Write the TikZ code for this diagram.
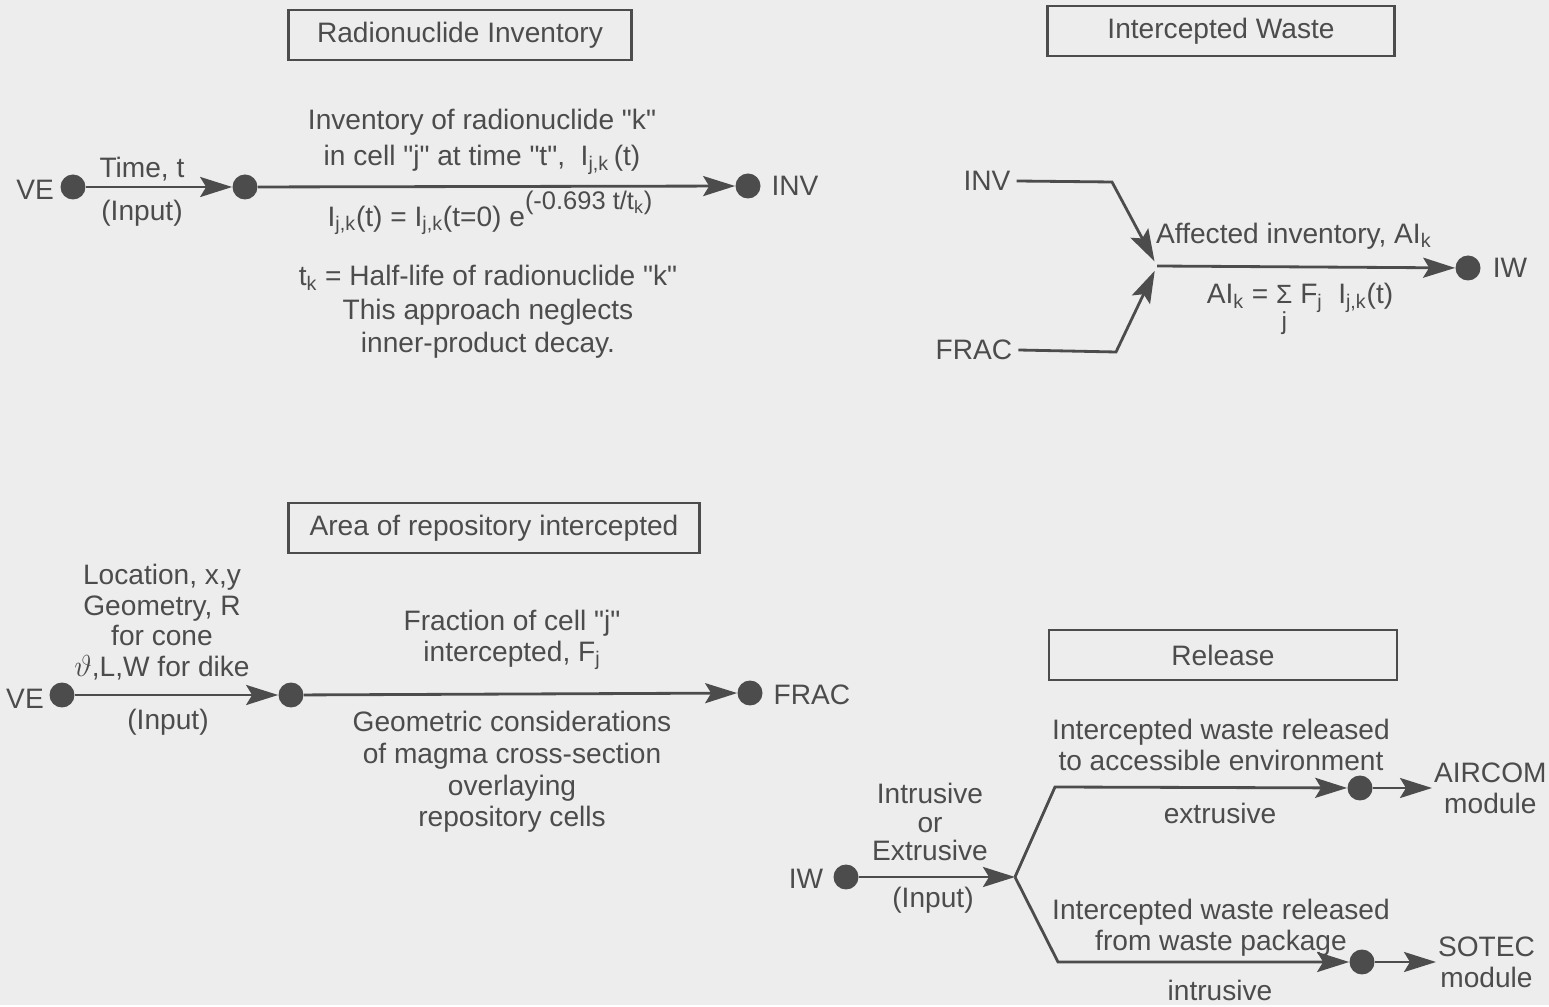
\documentclass[tikz,border=0pt]{standalone}
\usepackage{fontspec}
\setmainfont{Liberation Sans}
\usetikzlibrary{arrows.meta}
\definecolor{ink}{gray}{0.3}
\definecolor{paper}{gray}{0.93}
\newcommand\qq[1]{\textquotedbl#1\textquotedbl}

\begin{document}
\begin{tikzpicture}[x=0.02cm,y=-0.02cm,
    every node/.style={text=ink,font=\fontsize{16}{17.5}\selectfont},
    dot/.style={circle,fill=ink,inner sep=0pt,minimum size=0.5cm},
    title/.style={draw=ink,line width=1.2pt,minimum width=#1,minimum height=1cm},
    flow/.style={draw=ink,line width=1.6pt,-{Stealth[length=0.64cm,width=0.4cm,inset=0.12cm]}},
    txt/.style={align=center}]
    \fill[paper] (0,0) rectangle (1549,1005);

    % radionuclide inventory
    \node[title=6.86cm] (radbox) at (460,35) {Radionuclide Inventory};
    \node (ve1) at (35,190) {VE};
    \node[dot] (ve1dot) at (73,187) {};
    \node[dot] (timedot) at (245,187) {};
    \node[dot] (invdot) at (748,186) {};
    \node (inv1) at (795,186) {INV};
    \draw[flow] (ve1dot) -- (timedot);
    \draw[flow] (timedot) -- (invdot);
    \node (time) at (142,169) {Time, t};
    \node (input1) at (142,213) {(Input)};
    \node[txt] (invtext) at (482,142) {Inventory of radionuclide \qq{k}\\[3pt]in cell \qq{j} at time \qq{t},\ \ I\textsubscript{j,k}\,(t)};
    \node (decay) at (490,213) {I\textsubscript{j,k}(t) = I\textsubscript{j,k}(t=0) e\raisebox{1.1ex}{\fontsize{14.5}{15}\selectfont(-0.693 t/t\textsubscript{k})}};
    \node[txt,font=\fontsize{16}{19}\selectfont] (halflife) at (488,312) {t\textsubscript{k} = Half-life of radionuclide \qq{k}\\This approach neglects\\inner-product decay.};

    % intercepted waste
    \node[title=6.94cm] (iwbox) at (1221,31) {Intercepted Waste};
    \node (inv2) at (987,181) {INV};
    \node (frac2) at (974,350) {FRAC};
    \coordinate (invbend) at (1112,182);
    \coordinate (fracbend) at (1116,352);
    \coordinate (merge) at (1157,266);
    \node[dot] (iwdot) at (1468,268) {};
    \node (iw2) at (1510,268) {IW};
    \draw[flow,shorten >=3pt] (inv2.east) -- (invbend) -- (merge);
    \draw[flow,shorten >=3pt] (frac2.east) -- (fracbend) -- (merge);
    \draw[flow] (merge) -- (iwdot);
    \node[anchor=west] (affected) at (1150,236) {Affected inventory, AI\textsubscript{k}};
    \node[anchor=base] (aisum) at (1300,304) {AI\textsubscript{k} = \begin{tabular}[t]{@{}c@{}}\fontsize{15}{15}\selectfont Σ\\[-3pt]\fontsize{14}{14}\selectfont j\end{tabular} F\textsubscript{j}\ \ I\textsubscript{j,k}(t)};

    % area of repository intercepted
    \node[title=8.22cm] (areabox) at (494,528) {Area of repository intercepted};
    \node[txt] (geom) at (162,622) {Location, x,y\\Geometry, R\\for cone\\\(\vartheta\),L,W for dike};
    \node (ve2) at (25,699) {VE};
    \node[dot] (ve2dot) at (62,695) {};
    \node[dot] (cutdot) at (291,695) {};
    \node[dot] (fracdot) at (750,693) {};
    \node (frac3) at (812,695) {FRAC};
    \draw[flow] (ve2dot) -- (cutdot);
    \draw[flow] (cutdot) -- (fracdot);
    \node (input2) at (168,722) {(Input)};
    \node[txt] (fraction) at (512,640) {Fraction of cell \qq{j}\\intercepted, F\textsubscript{j}};
    \node[txt,font=\fontsize{16}{18}\selectfont] (geomcons) at (512,772) {Geometric considerations\\of magma cross-section\\overlaying\\repository cells};

    % release
    \node[title=6.96cm] (relbox) at (1223,655) {Release};
    \node (iw3) at (806,879) {IW};
    \node[dot] (iw3dot) at (846,877) {};
    \coordinate (split) at (1015,877);
    \draw[flow] (iw3dot) -- (split);
    \node[txt,font=\fontsize{16}{16.2}\selectfont] (mode) at (930,822) {Intrusive\\or\\Extrusive};
    \node (input3) at (933,900) {(Input)};
    \coordinate (upbend) at (1055,787);
    \coordinate (lowbend) at (1058,962);
    \node[dot] (airdot) at (1360,788) {};
    \node[dot] (sotdot) at (1362,962) {};
    \node[txt,anchor=west,inner sep=1pt] (aircom) at (1432,788) {AIRCOM\\module};
    \node[txt,anchor=west,inner sep=1pt] (sotec) at (1436,962) {SOTEC\\module};
    \draw[flow] (split) -- (upbend) -- (airdot);
    \draw[flow] (split) -- (lowbend) -- (sotdot);
    \draw[flow] (airdot) -- (aircom.west);
    \draw[flow] (sotdot) -- (sotec.west);
    \node[txt] (accessible) at (1221,745) {Intercepted waste released\\to accessible environment};
    \node (extr) at (1220,813) {extrusive};
    \node[txt] (package) at (1221,928) {Intercepted waste released\\from waste package};
    \node (intr) at (1220,990) {intrusive};
\end{tikzpicture}
\end{document}
